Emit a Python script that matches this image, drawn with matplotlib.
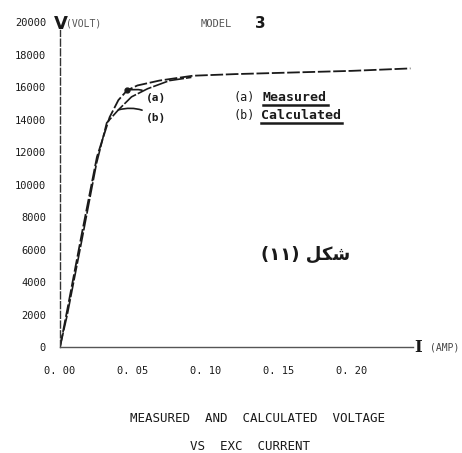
"""
Open-circuit characteristic of model 3: measured vs calculated voltage
against excitation current.
"""
import matplotlib
matplotlib.use('Agg')
import matplotlib.pyplot as plt
from matplotlib.lines import Line2D

# Measured curve (a)
i_meas = [0.0, 0.005, 0.015, 0.0253, 0.034, 0.040, 0.046, 0.053, 0.068, 0.091, 0.120, 0.160, 0.200, 0.240]
v_meas = [0, 2300, 7000, 11700, 14150, 15200, 15800, 16100, 16400, 16700, 16800, 16900, 17000, 17150]

# Calculated curve (b)
i_calc = [0.0, 0.005, 0.015, 0.025, 0.032, 0.040, 0.049, 0.060, 0.075, 0.090]
v_calc = [0, 2000, 6600, 11300, 13800, 14600, 15400, 15900, 16400, 16600]

y_ticks = [0, 2000, 4000, 6000, 8000, 10000, 12000, 14000, 16000, 18000, 20000]
x_ticks = [0.00, 0.05, 0.10, 0.15, 0.20]
x_labels = ['0. 00', '0. 05', '0. 10', '0. 15', '0. 20']

MONO = 'DejaVu Sans Mono'
INK = '#1a1a1a'

fig = plt.figure(figsize=(4.62, 4.53), dpi=100)
ax = fig.add_axes([60 / 462, 106 / 453, 365 / 462, 333 / 453])
ax.set_xlim(0, 0.25)
ax.set_ylim(0, 20500)

# curves
ax.plot(i_meas, v_meas, color=INK, lw=1.3, linestyle=(0, (7, 1.5)))
ax.plot(i_calc, v_calc, color=INK, lw=1.2, linestyle=(0, (9, 1.2)))
ax.plot(i_meas[6], v_meas[6], 'o', color=INK, ms=3.5)

# curve labels with leader lines
ax.annotate('(a)', xy=(i_meas[6], v_meas[6]), xytext=(0.059, 15350),
            fontsize=8, family=MONO, fontweight='bold', color=INK, va='center',
            arrowprops=dict(arrowstyle='-', color=INK, lw=1.2,
                            shrinkA=1, shrinkB=0, connectionstyle='arc3,rad=0.25'))
ax.annotate('(b)', xy=(i_calc[5], v_calc[5]), xytext=(0.059, 14100),
            fontsize=8, family=MONO, fontweight='bold', color=INK, va='center',
            arrowprops=dict(arrowstyle='-', color=INK, lw=1.2,
                            shrinkA=1, shrinkB=0, connectionstyle='arc3,rad=0.25'))

# key
ax.text(0.119, 15380, '(a)', fontsize=8.5, family=MONO, color=INK, va='center')
t_meas = ax.text(0.139, 15380, 'Measured', fontsize=9.5, family=MONO,
                 fontweight='bold', color=INK, va='center')
ax.text(0.119, 14250, '(b)', fontsize=8.5, family=MONO, color=INK, va='center')
t_calc = ax.text(0.138, 14250, 'Calculated', fontsize=9.5, family=MONO,
                 fontweight='bold', color=INK, va='center')

# axes styling
for side in ('top', 'right'):
    ax.spines[side].set_visible(False)
ax.spines['left'].set_bounds(0, 19500)
ax.spines['left'].set_linestyle((0, (5, 2)))
ax.spines['left'].set_linewidth(1.0)
ax.spines['left'].set_color('#333333')
ax.spines['bottom'].set_bounds(0, 0.242)
ax.spines['bottom'].set_linewidth(1.0)
ax.spines['bottom'].set_color('#555555')

ax.set_yticks(y_ticks)
ax.set_yticklabels([str(v) for v in y_ticks], family=MONO, fontsize=7.5, color=INK)
ax.set_xticks(x_ticks)
ax.set_xticklabels(x_labels, family=MONO, fontsize=7.5, color=INK)
ax.tick_params(axis='y', length=0, pad=10)
ax.tick_params(axis='x', length=0, pad=14)
ax.patch.set_visible(False)

# axis names
ax.text(0.0005, 19900, 'V', fontsize=13, fontweight='bold', color=INK, ha='center', va='center')
ax.text(0.004, 19900, '(VOLT)', fontsize=7, family=MONO, color='#555555', va='center')
ax.text(0.2425, 0, 'I', fontsize=12, fontweight='bold', family='DejaVu Serif',
        color=INK, ha='left', va='center')
ax.text(0.2535, 0, '(AMP)', fontsize=7, family=MONO, color='#444444', va='center')
ax.text(0.096, 19900, 'MODEL', fontsize=7.5, family=MONO, color='#555555', va='center')
ax.text(0.1335, 19900, '3', fontsize=11, fontweight='bold', color=INK, va='center')

# figure number (Arabic, glyphs given in display order)
ax.text(0.138, 5700, '(\u0661\u0661) \uFEDE\uFEDC\uFEB7', fontsize=13,
        fontweight='bold', family='DejaVu Sans', color=INK, va='center')

# caption
fig.text(257 / 462, 1 - 418 / 453, 'MEASURED  AND  CALCULATED  VOLTAGE',
         fontsize=9, family=MONO, color=INK, ha='center', va='center')
fig.text(250 / 462, 1 - 447 / 453, 'VS  EXC  CURRENT',
         fontsize=9, family=MONO, color=INK, ha='center', va='center')

# underline the key entries
fig.canvas.draw()
inv = fig.transFigure.inverted()
for t in (t_meas, t_calc):
    bb = t.get_window_extent()
    (x0, y0), (x1, _) = inv.transform([(bb.x0, bb.y0 - 1), (bb.x1 + 1, bb.y0 - 1)])
    fig.add_artist(Line2D([x0, x1], [y0, y0], color=INK, lw=1.8))

fig.savefig('out.png', dpi=100)
